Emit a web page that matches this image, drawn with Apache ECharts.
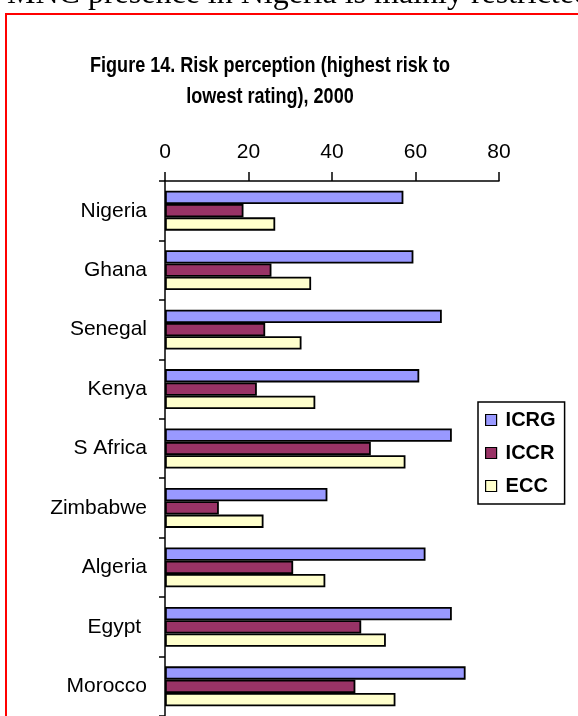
<!DOCTYPE html>
<html>
<head>
<meta charset="utf-8">
<script src="https://cdn.jsdelivr.net/npm/echarts@6/dist/echarts.min.js"></script>
<style>
  html, body { margin: 0; padding: 0; background: #fff; }
  #chart { width: 578px; height: 716px; }
</style>
</head>
<body>
<div id="chart"></div>
<script>
const countries = ["Nigeria", "Ghana", "Senegal", "Kenya", "S Africa", "Zimbabwe", "Algeria", "Egypt ", "Morocco"];
const icrg = [57.1, 59.5, 66.3, 60.9, 68.7, 38.9, 62.4, 68.7, 72.0];
const iccr = [18.8, 25.5, 24.0, 22.0, 49.3, 12.9, 30.7, 47.0, 45.6];
const ecc = [26.4, 35.0, 32.7, 36.0, 57.6, 23.6, 38.4, 52.9, 55.2];
const seriesNames = ["ICRG", "ICCR", "ECC"];
const colors = ["#9999FF", "#993366", "#FFFFCC"];

const chart = echarts.init(document.getElementById("chart"));

const barStyle = (color) => ({
  color: color,
  borderColor: "#000",
  borderWidth: 1.8,
});

const option = {
  backgroundColor: "#fff",
  animation: false,
  // title drawn as graphic text so it can be squeezed like Arial Narrow
  graphic: [
    {
      type: "text",
      x: 270,
      y: 66,
      scaleX: 0.82,
      style: {
        text: "Figure 14. Risk perception (highest risk to",
        font: "bold 22px 'Liberation Sans', Arial, sans-serif",
        fill: "#000",
        align: "center",
        verticalAlign: "middle",
      },
    },
    {
      type: "text",
      x: 270,
      y: 97,
      scaleX: 0.82,
      style: {
        text: "lowest rating), 2000",
        font: "bold 22px 'Liberation Sans', Arial, sans-serif",
        fill: "#000",
        align: "center",
        verticalAlign: "middle",
      },
    },
    // page text above the chart box (cut off at the top)
    {
      type: "text",
      x: 7,
      y: 11,
      style: {
        text: "MNC presence in Nigeria is mainly restricted",
        font: "32px 'Liberation Serif', serif",
        fill: "#000",
        verticalAlign: "bottom",
      },
    },
    {
      type: "rect",
      shape: { x: 6, y: 14, width: 620, height: 760 },
      style: { fill: "none", stroke: "#ff0000", lineWidth: 2 },
    },
  ],
  legend: {
    orient: "vertical",
    left: 478,
    top: 402,
    padding: [8, 9, 8, 7],
    itemGap: 13,
    itemWidth: 11,
    itemHeight: 11,
    icon: "rect",
    borderColor: "#000",
    borderWidth: 1.5,
    data: seriesNames,
    itemStyle: { borderColor: "#000", borderWidth: 1.2 },
    textStyle: {
      fontFamily: "'Liberation Sans', Arial, sans-serif",
      fontWeight: "bold",
      fontSize: 20,
      color: "#000",
      padding: [0, 0, 0, 4],
    },
  },
  grid: {
    left: 165,
    top: 181,
    right: 79,
    height: 536,
  },
  xAxis: {
    type: "value",
    position: "top",
    min: 0,
    max: 80,
    interval: 20,
    splitLine: { show: false },
    axisLine: { show: true, lineStyle: { color: "#000", width: 1.5 } },
    axisTick: { show: true, length: 9, lineStyle: { color: "#000", width: 1.5 } },
    axisLabel: {
      margin: 18,
      color: "#000",
      fontFamily: "'Liberation Sans', Arial, sans-serif",
      fontSize: 21,
    },
  },
  yAxis: {
    type: "category",
    inverse: true,
    data: countries,
    axisLine: { show: true, lineStyle: { color: "#000", width: 1.5 } },
    axisTick: { show: true, length: 6, lineStyle: { color: "#000", width: 1.5 } },
    axisLabel: {
      margin: 18,
      color: "#000",
      fontFamily: "'Liberation Sans', Arial, sans-serif",
      fontSize: 21,
    },
  },
  series: [
    {
      name: "ICRG",
      type: "bar",
      data: icrg,
      barWidth: 13.3,
      barGap: "0%",
      itemStyle: barStyle(colors[0]),
    },
    {
      name: "ICCR",
      type: "bar",
      data: iccr,
      barWidth: 13.3,
      barGap: "0%",
      itemStyle: barStyle(colors[1]),
    },
    {
      name: "ECC",
      type: "bar",
      data: ecc,
      barWidth: 13.3,
      barGap: "0%",
      itemStyle: barStyle(colors[2]),
    },
  ],
};

chart.setOption(option);
</script>
</body>
</html>
